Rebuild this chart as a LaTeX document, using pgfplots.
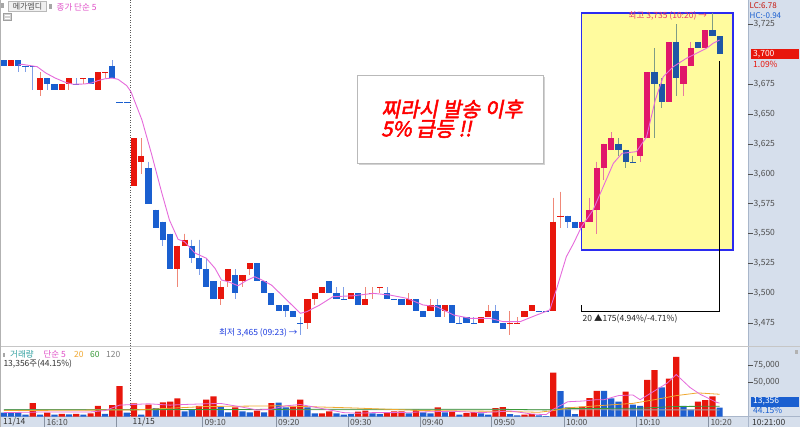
\documentclass[border=0pt]{standalone}
\usepackage{pgfplots}
\pgfplotsset{compat=1.18}
\usepackage{pgfplotstable}
\usepackage{fontspec}
\setmainfont{Noto Sans CJK KR}
\newfontfamily\krsl{Noto Sans CJK KR}[FakeSlant=0.2,FakeBold=2.4]
\newcommand\fs[1]{\fontsize{#1pt}{#1pt}\selectfont}
\definecolor{cred}{HTML}{E8160C}
\definecolor{cblue}{HTML}{1A5FD0}
\definecolor{bred}{HTML}{E0176A}
\definecolor{bblue}{HTML}{1F56A6}
\definecolor{wred}{HTML}{F08878}
\definecolor{wblue}{HTML}{80A0E8}
\definecolor{bwred}{HTML}{E87AA0}
\definecolor{bwblue}{HTML}{7F9C86}
\definecolor{ybox}{HTML}{FFFB9E}
\definecolor{boxborder}{HTML}{2B2BF0}
\definecolor{maline}{HTML}{E66ADB}
\definecolor{panel}{HTML}{D6DFEC}
\definecolor{sepgray}{HTML}{A9B6CA}
\definecolor{vred}{HTML}{E8160C}
\definecolor{vblue}{HTML}{1E5FD0}
\definecolor{tickgray}{HTML}{505050}
\definecolor{pinktxt}{HTML}{E050C8}
\definecolor{hitxt}{HTML}{E8356B}
\definecolor{lotxt}{HTML}{1C3CE0}
\definecolor{tealtxt}{HTML}{2FA0A0}
\definecolor{orangel}{HTML}{F0A830}
\definecolor{greenl}{HTML}{3A9A3A}

\pgfplotstableread{
n O H L C c
-18 3695 3695 3690 3690 1
-17 3690 3695 3690 3695 0
-16 3695 3695 3685 3690 1
-15 3690 3690 3685 3690 1
-14 3690 3690 3670 3690 1
-13 3670 3685 3665 3680 0
-12 3680 3680 3670 3675 1
-11 3675 3675 3670 3670 1
-10 3670 3675 3670 3675 0
-9 3675 3680 3670 3680 0
-8 3675 3680 3675 3675 1
-7 3680 3680 3675 3680 0
-6 3680 3680 3675 3675 1
-5 3670 3685 3670 3685 0
-4 3685 3685 3680 3685 0
-3 3690 3695 3680 3680 1
-2 3660 3660 3660 3660 1
-1 3660 3660 3660 3660 1
0 3590 3630 3590 3630 0
1 3610 3630 3600 3615 0
2 3605 3610 3575 3575 1
3 3570 3570 3555 3555 1
4 3560 3560 3540 3545 1
5 3550 3550 3520 3520 1
6 3520 3540 3505 3540 0
7 3540 3550 3540 3545 0
8 3540 3545 3525 3530 1
9 3530 3545 3515 3520 1
10 3520 3530 3505 3505 1
11 3510 3510 3495 3495 1
12 3495 3510 3490 3505 0
13 3510 3520 3505 3520 0
14 3515 3520 3495 3500 1
15 3510 3515 3505 3515 0
16 3520 3525 3515 3525 0
17 3525 3525 3510 3510 1
18 3510 3510 3500 3500 1
19 3500 3500 3490 3490 1
20 3490 3490 3485 3485 1
21 3490 3490 3480 3485 1
22 3485 3485 3480 3480 1
23 3475 3480 3465 3475 1
24 3475 3495 3470 3495 0
25 3495 3500 3490 3500 0
26 3500 3505 3500 3505 0
27 3510 3510 3500 3500 1
28 3500 3505 3495 3495 1
29 3495 3505 3495 3495 1
30 3495 3500 3495 3500 0
31 3500 3500 3490 3490 1
32 3490 3505 3490 3495 0
33 3500 3505 3495 3500 0
34 3505 3505 3500 3505 0
35 3500 3505 3495 3495 1
36 3495 3495 3495 3495 1
37 3495 3495 3490 3490 1
38 3490 3500 3490 3495 0
39 3495 3495 3485 3485 1
40 3485 3485 3480 3480 1
41 3485 3495 3485 3490 0
42 3490 3495 3480 3480 1
43 3485 3490 3480 3490 0
44 3490 3490 3475 3475 1
45 3475 3480 3475 3475 1
46 3480 3480 3475 3475 1
47 3475 3480 3475 3475 1
48 3475 3480 3475 3480 0
49 3480 3490 3480 3485 0
50 3485 3490 3475 3475 1
51 3475 3475 3470 3470 1
52 3475 3485 3465 3475 0
53 3475 3480 3475 3475 0
54 3480 3485 3480 3485 0
55 3485 3490 3485 3490 0
56 3485 3485 3485 3485 1
57 3485 3485 3485 3485 1
58 3485 3580 3485 3560 0
59 3565 3585 3555 3565 0
60 3565 3565 3555 3560 1
61 3560 3560 3555 3555 1
62 3555 3560 3555 3560 2
63 3560 3580 3560 3570 2
64 3570 3610 3550 3605 2
65 3605 3625 3595 3625 2
66 3620 3635 3620 3630 2
67 3625 3630 3615 3620 3
68 3620 3620 3605 3610 3
69 3610 3615 3610 3610 3
70 3615 3630 3610 3630 2
71 3630 3685 3630 3685 2
72 3685 3705 3630 3675 3
73 3675 3680 3655 3660 3
74 3660 3710 3660 3710 2
75 3710 3725 3665 3680 3
76 3675 3690 3665 3690 2
77 3690 3710 3690 3705 2
78 3710 3710 3705 3705 3
79 3705 3720 3705 3720 2
80 3720 3735 3715 3715 3
81 3715 3715 3700 3700 3
}\candles

\pgfplotstableread{
n v c
-18 6000 1
-17 6000 1
-16 6000 1
-15 3000 1
-14 20000 0
-13 3000 1
-12 6000 0
-11 3000 1
-10 4000 0
-9 3500 1
-8 4000 0
-7 3000 1
-6 5000 0
-5 16000 0
-4 4000 1
-3 17000 0
-2 45000 0
-1 6000 1
0 19600 0
1 3000 1
2 17600 0
3 12700 1
4 21000 0
5 22000 0
6 27000 0
7 7800 1
8 9800 1
9 16000 0
10 25000 0
11 30000 0
12 14700 1
13 6300 1
14 13700 0
15 7800 1
16 6300 1
17 8800 0
18 6300 1
19 20000 0
20 20600 1
21 13700 1
22 14700 0
23 25000 0
24 13700 1
25 4900 1
26 4900 0
27 7800 0
28 4900 1
29 3000 1
30 3900 1
31 7400 0
32 8800 0
33 4900 1
34 3900 1
35 5900 0
36 7800 0
37 7800 0
38 4900 1
39 10300 0
40 6300 1
41 4900 1
42 13700 0
43 6300 1
44 7400 0
45 3000 1
46 5400 0
47 6800 0
48 4900 1
49 3000 1
50 12700 0
51 14200 0
52 3900 1
53 2000 1
54 3000 0
55 3900 0
56 2000 1
57 1000 1
58 64700 0
59 37700 1
60 13700 1
61 3900 1
62 14700 0
63 27500 0
64 38000 0
65 38000 1
66 27000 1
67 22000 1
68 37000 0
69 17600 1
70 16000 1
71 54000 0
72 68600 0
73 43000 1
74 56000 0
75 88000 0
76 16000 1
77 10300 1
78 22000 0
79 24500 0
80 30000 0
81 13356 1
}\vol

\pgfplotsset{
  wick/.style={only marks, mark options={draw=none, fill=none}, mark size=0pt, forget plot, error bars/.cd, y dir=minus, y explicit, error mark=none, error bar style={line width=1pt, color=#1}},
  body/.style={only marks, mark options={draw=none, fill=none}, mark size=0pt, forget plot, error bars/.cd, y dir=minus, y explicit, error mark=none, error bar style={line width=6.2pt, color=#1}},
}

\begin{document}
\begin{tikzpicture}
\begin{scope}[x=1pt,y=-1pt]
\path[use as bounding box] (0,0) rectangle (800,427);
\fill[white] (0,0) rectangle (800,427);
\fill[panel] (748,0) rectangle (800,427);
\fill[panel] (0,416.7) rectangle (800,427);
\draw[sepgray, line width=0.8pt] (748,0) -- (748,427);
\draw[gray!45, line width=0.8pt] (0,346.5) -- (800,346.5);
\draw[sepgray, line width=0.8pt] (0,416.7) -- (800,416.7);
\draw[gray!60, line width=0.8pt] (0.4,0) -- (0.4,427);
\draw[black!65, line width=0.8pt, dash pattern=on 1pt off 1.5pt] (130.5,0) -- (130.5,416.7);
\end{scope}

% ---------- price panel
\begin{axis}[
  at={(0pt,0pt)}, anchor=north west,
  width=748pt, height=345pt, scale only axis,
  xmin=-18.534, xmax=84.924, ymin=3456.8, ymax=3745.5,
  hide x axis, axis y line*=right, y axis line style={draw=none},
  ytick={3475,3500,3525,3550,3575,3600,3625,3650,3675,3725},
  tick align=outside, major tick length=5pt,
  tick style={tickgray, line width=0.6pt},
  yticklabel style={font=\fs{8.5}, text=tickgray, anchor=west, inner sep=0.5pt},
  scaled y ticks=false,
  /pgf/number format/fixed, /pgf/number format/1000 sep={,}, /pgf/number format/assume math mode=true,
]
\fill[ybox] (axis cs:61.92,3536.2) rectangle (axis cs:82.89,3734.4);
\draw[boxborder, line width=1.6pt] (axis cs:61.92,3536.2) -- (axis cs:61.92,3734.4) -- (axis cs:82.89,3734.4) -- (axis cs:82.89,3536.2) -- cycle;

\addplot[restrict expr to domain={\thisrow{c}}{0:0}, wick=wred] table[x=n, y=H, y error minus expr={\thisrow{H}-\thisrow{L}}] {\candles};
\addplot[restrict expr to domain={\thisrow{c}}{1:1}, wick=wblue] table[x=n, y=H, y error minus expr={\thisrow{H}-\thisrow{L}}] {\candles};
\addplot[restrict expr to domain={\thisrow{c}}{2:2}, wick=bwred] table[x=n, y=H, y error minus expr={\thisrow{H}-\thisrow{L}}] {\candles};
\addplot[restrict expr to domain={\thisrow{c}}{3:3}, wick=bwblue] table[x=n, y=H, y error minus expr={\thisrow{H}-\thisrow{L}}] {\candles};

\addplot[restrict expr to domain={\thisrow{c}}{0:0}, body=cred] table[x=n, y expr={max(\thisrow{O},\thisrow{C})}, y error minus expr={max(abs(\thisrow{O}-\thisrow{C}),0.9)}] {\candles};
\addplot[restrict expr to domain={\thisrow{c}}{1:1}, body=cblue] table[x=n, y expr={max(\thisrow{O},\thisrow{C})}, y error minus expr={max(abs(\thisrow{O}-\thisrow{C}),0.9)}] {\candles};
\addplot[restrict expr to domain={\thisrow{c}}{2:2}, body=bred] table[x=n, y expr={max(\thisrow{O},\thisrow{C})}, y error minus expr={max(abs(\thisrow{O}-\thisrow{C}),0.9)}] {\candles};
\addplot[restrict expr to domain={\thisrow{c}}{3:3}, body=bblue] table[x=n, y expr={max(\thisrow{O},\thisrow{C})}, y error minus expr={max(abs(\thisrow{O}-\thisrow{C}),0.9)}] {\candles};

\addplot[maline, line width=0.9pt, mark=none] coordinates {
(-16,3691) (-15.5,3691.7) (-13.4,3689.7) (-12.2,3684.4) (-10.9,3680.2) (-9.5,3676.6) (-8.4,3675) (-6.9,3675.2) (-5.9,3676) (-5,3678) (-4,3679.6) (-3,3680.2) (-2.2,3679.1) (-1,3673.8) (-0.4,3668.5) (1.1,3645.1) (2.4,3617.2) (3.8,3585.1) (4.9,3561.4) (6.1,3545.2) (7,3543.2) (8.4,3533.9) (10,3529.4) (11.2,3521) (12.1,3511.2) (13,3509.8) (14.4,3506.4) (15.5,3510.6) (16.7,3513.9) (17.7,3511.2) (19,3507) (20.2,3500) (21.6,3491.7) (23,3483.3) (23.9,3484.7) (25.7,3490.3) (27.5,3497.2) (30.3,3498) (33.1,3500) (35.4,3498.6) (37.7,3495.9) (40,3490.3) (41.9,3488.8) (44.2,3481.9) (46.5,3479.1) (49.2,3479.1) (51.1,3476.3) (53.4,3476.3) (55.7,3481.9) (57.5,3486.1) (58.4,3502.8) (59.8,3530.7) (60.8,3541.9) (61.9,3555.8) (63.5,3569.8) (64.9,3589.3) (66.3,3608.8) (67.5,3617.2) (69.5,3618.6) (70.9,3631.1) (72.1,3661.8) (73.2,3681.3) (74.6,3689.7) (76.4,3696.7) (77.8,3700.9) (79.2,3705.1) (80.1,3709.3) (81,3712)};

\draw[black, line width=1pt] (axis cs:81,3694.5) -- (axis cs:81,3484.7) -- (axis cs:61.92,3484.7) -- (axis cs:61.92,3490.3);
\end{axis}

% ---------- volume panel
\begin{axis}[
  at={(0pt,-347pt)}, anchor=north west,
  width=748pt, height=69.7pt, scale only axis,
  xmin=-18.534, xmax=84.924, ymin=0, ymax=102500,
  hide x axis, axis y line*=right, y axis line style={draw=none},
  ytick={50000,75000},
  tick align=outside, major tick length=5pt,
  tick style={tickgray, line width=0.6pt},
  yticklabel style={font=\fs{8.5}, text=tickgray, anchor=west, inner sep=0.5pt},
  scaled y ticks=false,
  /pgf/number format/fixed, /pgf/number format/1000 sep={,}, /pgf/number format/assume math mode=true,
]
\addplot[ybar, bar width=6.2pt, fill=vred, draw=none, restrict expr to domain={\thisrow{c}}{0:0}] table[x=n, y=v] {\vol};
\addplot[ybar, bar width=6.2pt, fill=vblue, draw=none, restrict expr to domain={\thisrow{c}}{1:1}] table[x=n, y=v] {\vol};
\addplot[gray!70, line width=0.8pt, mark=none] coordinates {(-18,10500) (81,10000)};
\addplot[greenl, line width=0.8pt, mark=none] coordinates {(-18,10000) (30,11000) (50,11000) (57,10000) (60,12000) (70,12500) (75,15000) (81,15500)};
\addplot[orangel, line width=0.8pt, mark=none] coordinates {(-18,9000) (0,10000) (10,15000) (20,16000) (30,13000) (40,9000) (50,8000) (56,6500) (58,9000) (60,13000) (64,16000) (69,19600) (72,25000) (75,31000) (78,35000) (81,33000)};
\addplot[maline, line width=0.8pt, mark=none] coordinates {(-18,6000) (-12,7000) (-6,7000) (-4,9000) (-2,17000) (0,18000) (2,19000) (5,17000) (7,18000) (10,19000) (12,19500) (15,14000) (17,10000) (19,11000) (21,16000) (23,18000) (25,14000) (27,10000) (29,6000) (31,5000) (33,6000) (36,6000) (40,7000) (44,8000) (48,6000) (50,7000) (52,8500) (55,4000) (57,3000) (58,11000) (60,22000) (62,23000) (64,25000) (65,25000) (67,31000) (69,32000) (70,25000) (72,38000) (73.7,49000) (75,62000) (76.9,43000) (78.3,33000) (80.6,21000) (81,20000)};
\end{axis}

% ---------- overlays and texts
\begin{scope}[x=1pt,y=-1pt, every node/.style={inner sep=0pt}]
% header
\fill[gray!70] (0.8,3.3) rectangle (4,8.3);
\filldraw[fill=gray!12, draw=gray!55, line width=0.6pt] (8.3,1.7) rectangle (46.7,11.7);
\node[anchor=center, text=tickgray, font=\fs{8}] at (27.5,6.9) {메가엠디};
\fill[gray!70] (49.3,4) rectangle (52.3,9);
\node[anchor=west, text=pinktxt, font=\fs{8.5}] at (56.5,7) {종가 단순 5};
\filldraw[fill=gray!35, draw=gray!75, line width=0.6pt] (3.6,13.6) rectangle (11.4,20.2);
\draw[white, line width=0.6pt] (5,15.8) -- (10,15.8) (5,18) -- (10,18);
% right panel texts
\node[anchor=west, text=cred!85!black, font=\fs{8}] at (749.5,6) {LC:6.78};
\node[anchor=west, text=cblue, font=\fs{8}] at (749.5,15.5) {HC:-0.94};
\fill[cred] (750.5,49.5) rectangle (798.5,59.5);
\node[anchor=west, text=white, font=\fs{8.5}] at (753,54.5) {3,700};
\node[anchor=west, text=cred, font=\fs{8.5}] at (753,64.3) {1.09\%};
\fill[cblue] (750.5,396.7) rectangle (798.5,406.7);
\node[anchor=west, text=white, font=\fs{8.5}] at (753,401.7) {13,356};
\node[anchor=west, text=cblue, font=\fs{8.5}] at (753,410.8) {44.15\%};
\fill[gray!60] (795,350) rectangle (798,354);
\node[anchor=west, text=black!80, font=\fs{8.5}] at (752,422) {10:21:00};
% bottom band
\foreach \xx in {44.3,116.3,202.3,276,348,420,491.7,564,636.7,708.3} {\draw[sepgray!80!black, line width=0.6pt] (\xx,416.7) -- (\xx,427);}
\node[anchor=west, text=black!80, font=\fs{8.5}] at (3,422) {11/14};
\node[anchor=west, text=black!70, font=\fs{8.5}] at (46.5,422) {16:10};
\node[anchor=west, text=black!80, font=\fs{8.5}] at (132.5,422) {11/15};
\node[anchor=west, text=black!70, font=\fs{8.5}] at (204.5,422) {09:10};
\node[anchor=west, text=black!70, font=\fs{8.5}] at (278,422) {09:20};
\node[anchor=west, text=black!70, font=\fs{8.5}] at (350,422) {09:30};
\node[anchor=west, text=black!70, font=\fs{8.5}] at (422,422) {09:40};
\node[anchor=west, text=black!70, font=\fs{8.5}] at (493.7,422) {09:50};
\node[anchor=west, text=black!70, font=\fs{8.5}] at (566,422) {10:00};
\node[anchor=west, text=black!70, font=\fs{8.5}] at (638.7,422) {10:10};
\node[anchor=west, text=black!70, font=\fs{8.5}] at (710.3,422) {10:20};
% volume legend
\fill[gray!70] (3,352.5) rectangle (5,356.5);
\node[anchor=west, text=tealtxt, font=\fs{8.5}] at (10,354.5) {거래량};
\node[anchor=west, text=pinktxt, font=\fs{8.5}] at (43.3,354.5) {단순 5};
\node[anchor=west, text=orangel, font=\fs{8.5}] at (74,354.5) {20};
\node[anchor=west, text=greenl, font=\fs{8.5}] at (90,354.5) {60};
\node[anchor=west, text=gray, font=\fs{8.5}] at (106,354.5) {120};
\node[anchor=west, text=black!80, font=\fs{8.5}] at (3.3,364) {13,356주(44.15\%)};
% annotations
\node[anchor=east, text=hitxt, font=\fs{8.5}] at (707,15.7) {최고 3,735 (10:20) →};
\node[anchor=east, text=lotxt, font=\fs{8.5}] at (297.5,333.3) {최저 3,465 (09:23) →};
\node[anchor=west, text=black!85, font=\fs{8.5}] at (582.5,318.5) {20 ▲175(4.94\%/-4.71\%)};
% text box
\fill[gray!35] (359.3,77) rectangle (545.3,165.3);
\filldraw[fill=white, draw=gray!55, line width=0.8pt] (357.3,75) rectangle (543.3,163.3);
\node[anchor=west, text=red, font=\krsl\fs{20.5}] at (381,109) {찌라시 발송 이후};
\node[anchor=west, text=red, font=\krsl\fs{20.5}] at (381,129) {5\% 급등 !!};
\end{scope}
\end{tikzpicture}
\end{document}
